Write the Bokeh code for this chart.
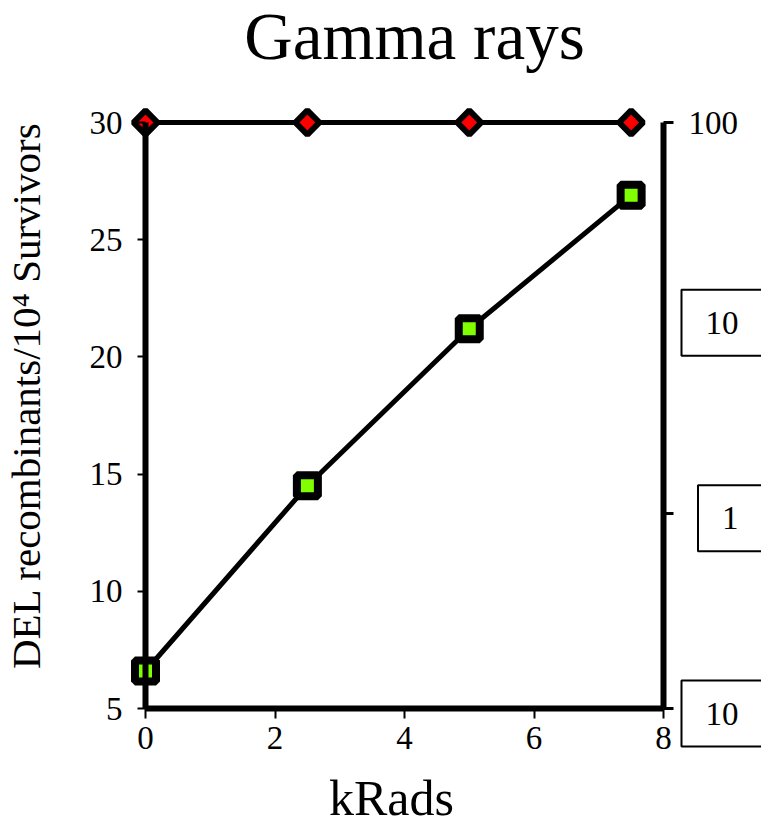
import math
from bokeh.plotting import figure
from bokeh.models import (Range1d, LinearAxis, LogAxis, LogScale, FixedTicker, Label,
                          CustomJSTickFormatter)
from bokeh.embed import file_html
from bokeh.resources import INLINE

# ---- data ----
krads = [0, 2.5, 5, 7.5]
del_recombinants = [6.6, 14.5, 21.2, 26.9]
survival = [100, 100, 100, 100]
x_ticks = [0, 2, 4, 6, 8]
y_ticks = [5, 10, 15, 20, 25, 30]
right_ticks = [0.1, 1, 100]
right_box_labels = ["10", "1", "10"]
right_box_values = [10, 1, 0.1]

title_text = "Gamma rays"
x_label = "kRads"
y_label = "DEL recombinants/10\u2074 Survivors"

FONT = "Liberation Serif"
W, H = 761, 828

# page layout (pixels): x=0 at 145, x=8 at 663 ; y=30 at 122, y=5 at 708
PX_X = (663 - 145) / 8.0
PX_Y = (708 - 122) / 25.0
PX_DEC = (708 - 122) / 3.0
x0 = 0 - 145 / PX_X
x1 = 8 + (W - 663) / PX_X
y0 = 5 - (H - 708) / PX_Y
y1 = 30 + 122 / PX_Y
ly0 = 10 ** (-1 - (H - 708) / PX_DEC)
ly1 = 10 ** (2 + 122 / PX_DEC)


def dx(px):
    return (px - 145) / PX_X


def dy(py):
    return 30 - (py - 122) / PX_Y


p = figure(width=W, height=H,
           x_range=Range1d(x0, x1), y_range=Range1d(y0, y1),
           output_backend="svg", toolbar_location=None,
           min_border=0, x_axis_location=None, y_axis_location=None)
p.extra_y_ranges = {"log": Range1d(ly0, ly1)}
p.extra_y_scales = {"log": LogScale()}

p.outline_line_color = None
p.grid.visible = False
p.background_fill_color = "white"
p.border_fill_color = "white"


def style(ax, tick_out, tick_w):
    ax.axis_line_width = 6
    ax.axis_line_color = "black"
    ax.major_tick_in = 0
    ax.major_tick_out = tick_out
    ax.major_tick_line_width = tick_w
    ax.major_tick_line_color = "black"
    ax.minor_tick_line_color = None
    ax.major_label_text_font = FONT
    ax.major_label_text_font_size = "33px"
    ax.major_label_text_color = "black"
    ax.major_label_standoff = 15


# left axis (fixed at x = 0)
ya = LinearAxis(ticker=FixedTicker(ticks=y_ticks), fixed_location=0, bounds=(5, 30))
style(ya, 8, 2)
p.add_layout(ya, "left")

# bottom axis (fixed at y = 5)
xa = LinearAxis(ticker=FixedTicker(ticks=x_ticks), fixed_location=5, bounds=(0, 8))
style(xa, 10, 2)
xa.major_label_standoff = 8
p.add_layout(xa, "below")

# right log axis (fixed at x = 8)
ra = LogAxis(y_range_name="log", ticker=FixedTicker(ticks=right_ticks),
             formatter=CustomJSTickFormatter(code="return tick >= 100 ? '100' : '';"),
             fixed_location=8, bounds=(0.1, 100))
style(ra, 10, 3)
p.add_layout(ra, "right")

# texts
p.add_layout(Label(x=dx(414), y=dy(35), text=title_text,
                   text_align="center", text_baseline="alphabetic",
                   text_font=FONT, text_font_size="67px", text_color="black"))
p.add_layout(Label(x=dx(391), y=dy(797), text=x_label,
                   text_align="center", text_baseline="alphabetic",
                   text_font=FONT, text_font_size="50px", text_color="black"))
p.add_layout(Label(x=dx(25), y=dy(395), text=y_label, angle=math.pi / 2,
                   text_align="center", text_baseline="alphabetic",
                   text_font=FONT, text_font_size="41px", text_color="black"))

# boxed labels at the right
for t, v in zip(right_box_labels, right_box_values):
    p.add_layout(Label(x=dx(762), y=v, y_range_name="log", text=t,
                       text_align="right", text_baseline="middle", y_offset=-5,
                       text_font=FONT, text_font_size="33px", text_color="black",
                       border_line_color="black", border_line_width=2,
                       background_fill_color="white", padding=(24, 22)))

# series
p.line(krads, del_recombinants, line_width=5, line_color="black")
p.scatter(krads, del_recombinants, marker="square", size=21,
          fill_color="#80FF00", line_color="black", line_width=8)

p.line(krads, survival, y_range_name="log", line_width=5, line_color="black")
p.scatter(krads, survival, y_range_name="log", marker="square", angle=math.pi / 4,
          size=17, fill_color="red", line_color="black", line_width=6)

open("out.html", "w").write(file_html(p, INLINE))
